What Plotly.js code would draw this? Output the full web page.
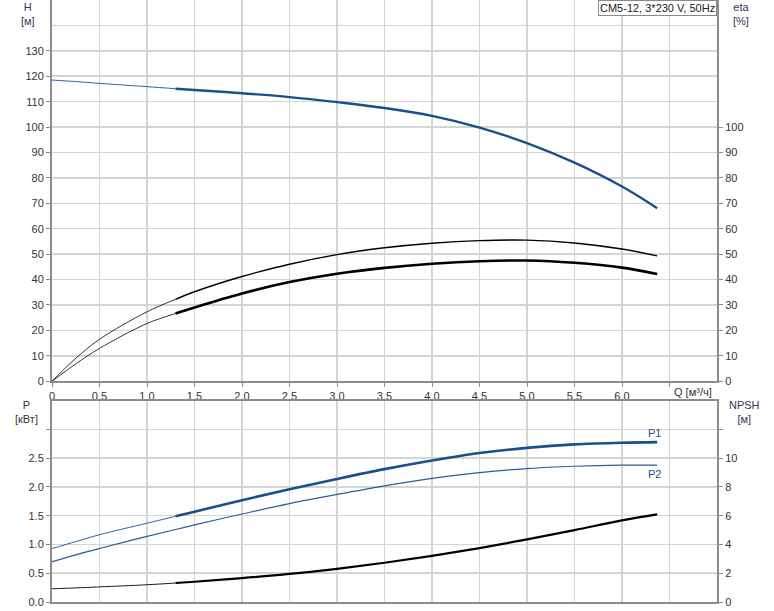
<!DOCTYPE html>
<html>
<head>
<meta charset="utf-8">
<script src="https://cdn.plot.ly/plotly-3.0.1.min.js"></script>
<style>html,body{margin:0;padding:0;background:#fff}#chart{width:774px;height:611px}</style>
</head>
<body>
<div id="chart"></div>
<script>
// ---- data ----
const q = [0, 0.25, 0.5, 1.0, 1.3, 1.5, 2.0, 2.5, 3.0, 3.5, 4.0, 4.5, 5.0, 5.5, 6.0, 6.37];
const head = [118.5, 117.9, 117.2, 115.9, 115.1, 114.6, 113.3, 111.8, 109.8, 107.5, 104.4, 99.8, 93.7, 86.0, 76.6, 68.1];
const etaPump = [0, 9.0, 16.5, 27.3, 32.2, 35.2, 41.2, 46.0, 49.8, 52.5, 54.3, 55.3, 55.5, 54.4, 52.0, 49.3];
const etaTotal = [0, 6.8, 12.9, 22.7, 26.6, 29.0, 34.5, 39.0, 42.3, 44.6, 46.2, 47.2, 47.5, 46.6, 44.7, 42.2];
const p1 = [0.93, 1.05, 1.17, 1.37, 1.49, 1.57, 1.77, 1.96, 2.14, 2.31, 2.46, 2.59, 2.68, 2.74, 2.77, 2.78];
const p2 = [0.70, 0.82, 0.93, 1.14, 1.26, 1.34, 1.53, 1.71, 1.87, 2.02, 2.15, 2.25, 2.32, 2.36, 2.38, 2.38];
const npsh = [0.92, 0.98, 1.05, 1.20, 1.32, 1.41, 1.66, 1.95, 2.31, 2.73, 3.21, 3.75, 4.35, 5.00, 5.68, 6.10];
const qSplit = 1.3;

const xTickVals = [0, 0.5, 1.0, 1.5, 2.0, 2.5, 3.0, 3.5, 4.0, 4.5, 5.0, 5.5, 6.0, 6.5];
const xTickText = ['0', '0,5', '1,0', '1,5', '2,0', '2,5', '3,0', '3,5', '4,0', '4,5', '5,0', '5,5', '6,0', ''];
const hTickVals = [0, 10, 20, 30, 40, 50, 60, 70, 80, 90, 100, 110, 120, 130];
const etaTickVals = [0, 10, 20, 30, 40, 50, 60, 70, 80, 90, 100];
const pTickVals = [0, 0.5, 1.0, 1.5, 2.0, 2.5, 3.0];
const pTickText = ['0.0', '0.5', '1.0', '1.5', '2.0', '2.5', ''];
const npshTickVals = [0, 2, 4, 6, 8, 10, 12];
const npshTickText = ['0', '2', '4', '6', '8', '10', ''];
const titleText = 'CM5-12, 3*230 V, 50Hz';

// ---- helpers ----
const BLUE = '#1a4f8e';
function seg(vals, from, to) {
  const xs = [], ys = [];
  q.forEach((v, i) => { if (v >= from && v <= to) { xs.push(v); ys.push(vals[i]); } });
  return {xs, ys};
}
function curve(vals, xa, ya, color, thinW, thickW) {
  const a = seg(vals, -1, qSplit), b = seg(vals, qSplit, 99);
  return [
    {x: a.xs, y: a.ys, xaxis: xa, yaxis: ya, mode: 'lines', line: {color: color, width: thinW, shape: 'spline', smoothing: 1}, hoverinfo: 'skip'},
    {x: b.xs, y: b.ys, xaxis: xa, yaxis: ya, mode: 'lines', line: {color: color, width: thickW, shape: 'spline', smoothing: 1}, hoverinfo: 'skip'}
  ];
}

const traces = [].concat(
  curve(head, 'x', 'y', BLUE, 0.9, 2.4),
  curve(etaPump, 'x', 'y2', '#000', 0.8, 1.4),
  curve(etaTotal, 'x', 'y2', '#000', 0.8, 2.6),
  curve(p1, 'x2', 'y3', BLUE, 0.9, 2.6),
  [{x: q, y: p2, xaxis: 'x2', yaxis: 'y3', mode: 'lines', line: {color: '#2f5c98', width: 1.2, shape: 'spline', smoothing: 1}, hoverinfo: 'skip'}],
  curve(npsh, 'x2', 'y4', '#000', 0.9, 2.2)
);

const font = {family: 'Liberation Sans, Arial, sans-serif', size: 11, color: '#333'};
const GRID = '#d4d4d4', LINE = '#8c8c8c';
const common = {showline: true, linecolor: LINE, linewidth: 2, zeroline: false, ticks: 'outside', ticklen: 4, tickcolor: LINE, tickwidth: 1, fixedrange: true};

// plot area: 52..717 px horizontally, 0..602 px vertically
const L = 52, W = 665, H = 602;
const px = x => (x - L) / W;
const py = y => (H - y) / H;

const layout = {
  width: 774, height: 611,
  margin: {l: L, r: 774 - L - W, t: 0, b: 611 - H},
  paper_bgcolor: '#fff', plot_bgcolor: '#fff',
  font: font, showlegend: false, hovermode: false,
  xaxis: Object.assign({}, common, {range: [0, 7], domain: [0, 1], anchor: 'y', tickmode: 'array', tickvals: xTickVals, ticktext: xTickText, showgrid: true, gridcolor: GRID, gridwidth: 1.5}),
  xaxis2: Object.assign({}, common, {range: [0, 7], domain: [0, 1], anchor: 'y3', matches: 'x', tickmode: 'array', tickvals: xTickVals, showticklabels: false, ticks: '', showgrid: true, gridcolor: GRID, gridwidth: 1.5, mirror: true}),
  yaxis: Object.assign({}, common, {range: [0, 150], domain: [py(381.2), 1], anchor: 'x', tickmode: 'array', tickvals: hTickVals, showgrid: true, gridcolor: GRID, gridwidth: 1.5,
    minor: {tickmode: 'array', tickvals: [140], showgrid: true, gridcolor: GRID, gridwidth: 1.5, ticks: ''}}),
  yaxis2: Object.assign({}, common, {range: [0, 150], overlaying: 'y', side: 'right', anchor: 'x', tickmode: 'array', tickvals: etaTickVals, showgrid: false}),
  yaxis3: Object.assign({}, common, {range: [0, 3.5], domain: [0, py(400.7)], anchor: 'x2', tickmode: 'array', tickvals: pTickVals, ticktext: pTickText, showgrid: true, gridcolor: GRID, gridwidth: 1.5}),
  yaxis4: Object.assign({}, common, {range: [0, 14], overlaying: 'y3', side: 'right', anchor: 'x2', tickmode: 'array', tickvals: npshTickVals, ticktext: npshTickText, showgrid: false}),
  annotations: [
    {text: 'H<br>[м]', xref: 'paper', yref: 'paper', x: px(28), y: py(-1), xanchor: 'center', yanchor: 'top', showarrow: false, align: 'center', font: {family: font.family, size: 11, color: '#3d2f5e'}},
    {text: 'eta<br>[%]', xref: 'paper', yref: 'paper', x: px(741), y: py(-1), xanchor: 'center', yanchor: 'top', showarrow: false, align: 'center', font: {family: font.family, size: 11, color: '#3d2f5e'}},
    {text: 'P<br>[кВт]', xref: 'paper', yref: 'paper', x: px(26), y: py(397), xanchor: 'center', yanchor: 'top', showarrow: false, align: 'center', font: {family: font.family, size: 11, color: '#333'}},
    {text: 'NPSH<br>[м]', xref: 'paper', yref: 'paper', x: px(745), y: py(397), xanchor: 'center', yanchor: 'top', showarrow: false, align: 'center', font: {family: font.family, size: 11, color: '#3d2f5e'}},
    {text: 'Q [м³/ч]', xref: 'paper', yref: 'paper', x: px(714), y: py(391.5), xanchor: 'right', yanchor: 'middle', showarrow: false, font: font},
    {text: titleText, xref: 'paper', yref: 'paper', x: px(716.5), y: py(0), xanchor: 'right', yanchor: 'top', showarrow: false, font: {family: font.family, size: 11, color: '#222'}, bgcolor: '#fff', bordercolor: '#888', borderwidth: 1, borderpad: 1},
    {text: 'P1', xref: 'x2', yref: 'y3', x: q[q.length - 1], y: p1[p1.length - 1], xanchor: 'right', yanchor: 'bottom', xshift: 6, yshift: 1, showarrow: false, font: {family: font.family, size: 11, color: BLUE}},
    {text: 'P2', xref: 'x2', yref: 'y3', x: q[q.length - 1], y: p2[p2.length - 1], xanchor: 'right', yanchor: 'top', xshift: 6, yshift: -1, showarrow: false, font: {family: font.family, size: 11, color: BLUE}}
  ]
};

Plotly.newPlot('chart', traces, layout, {displayModeBar: false, staticPlot: true});
</script>
</body>
</html>
